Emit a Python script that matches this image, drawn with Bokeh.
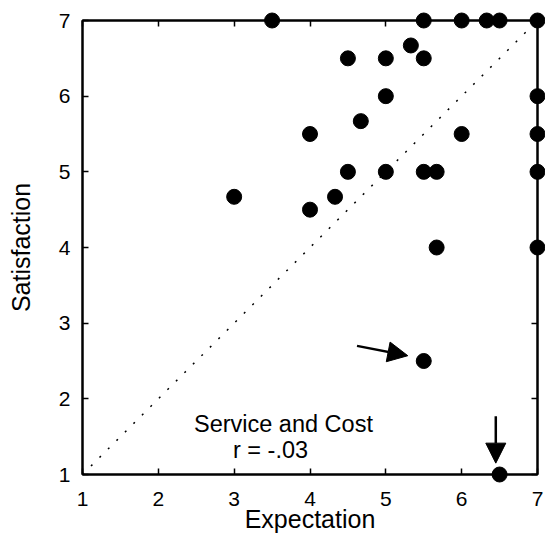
from bokeh.plotting import figure
from bokeh.models import (LinearAxis, Arrow, NormalHead, ColumnDataSource,
                          Range1d, FixedTicker)
from bokeh.embed import file_html
from bokeh.resources import INLINE
from bokeh.core.properties import value

# ---- data ----
expectation = [3.5, 5.5, 6.0, 6.33, 6.5, 7.0,
               4.5, 5.0, 5.33, 5.5, 5.0, 4.67, 4.0, 6.0,
               7.0, 7.0, 7.0, 7.0,
               4.5, 5.0, 5.5, 5.67, 3.0, 4.33, 4.0, 5.67,
               5.5, 6.5]
satisfaction = [7.0, 7.0, 7.0, 7.0, 7.0, 7.0,
                6.5, 6.5, 6.67, 6.5, 6.0, 5.67, 5.5, 5.5,
                6.0, 5.5, 5.0, 4.0,
                5.0, 5.0, 5.0, 5.0, 4.67, 4.67, 4.5, 4.0,
                2.5, 1.0]
axis_ticks = [1, 2, 3, 4, 5, 6, 7]
identity_x = [1, 7]
identity_y = [1, 7]

# arrows pointing at the two outliers
arrow_x_start = [4.62, 6.45]
arrow_y_start = [2.70, 1.77]
arrow_x_end = [5.29, 6.45]
arrow_y_end = [2.57, 1.15]

caption_text = ["Service and Cost", "r = -.03"]
caption_x = [3.65, 3.48]
caption_y = [1.67, 1.33]

FONT = "Liberation Sans"

p = figure(width=545, height=540,
           x_range=Range1d(1, 7), y_range=Range1d(1, 7),
           output_backend="svg", toolbar_location=None,
           min_border_left=82, min_border_right=8,
           min_border_top=20, min_border_bottom=66)

p.background_fill_color = "white"
p.border_fill_color = "white"
p.grid.visible = False
p.outline_line_color = "black"
p.outline_line_width = 2

ticker = FixedTicker(ticks=axis_ticks)

def style_axis(ax, labels=True):
    ax.ticker = ticker
    ax.axis_line_color = "black"
    ax.axis_line_width = 2
    ax.major_tick_in = 6
    ax.major_tick_out = 0
    ax.major_tick_line_color = "black"
    ax.major_tick_line_width = 1.5
    ax.minor_tick_line_color = None
    ax.major_label_text_font = FONT
    ax.axis_label_text_font = FONT
    ax.axis_label_text_font_style = "normal"
    ax.axis_label_text_color = "black"
    if labels:
        ax.major_label_text_color = "black"
        ax.major_label_text_font_size = "21px"
        ax.axis_label_text_font_size = "25px"
    else:
        ax.major_label_text_color = None
        ax.major_label_text_font_size = "8px"
        ax.major_label_standoff = 0

style_axis(p.xaxis[0])
style_axis(p.yaxis[0])
p.xaxis[0].axis_label = "Expectation"
p.yaxis[0].axis_label = "Satisfaction"
p.xaxis[0].major_label_standoff = 17
p.xaxis[0].axis_label_standoff = -4
p.yaxis[0].major_label_standoff = 12
p.yaxis[0].axis_label_standoff = 21

top_axis = LinearAxis()
style_axis(top_axis, labels=False)
right_axis = LinearAxis()
style_axis(right_axis, labels=False)
p.add_layout(top_axis, "above")
p.add_layout(right_axis, "right")

# identity (diagonal) dotted line
p.line(identity_x, identity_y, line_color="black", line_width=1.5,
       line_dash="2 10")

# data points
src = ColumnDataSource(dict(x=expectation, y=satisfaction))
p.scatter("x", "y", source=src, size=15, fill_color="black",
          line_color="black", level="overlay")

# arrows
arrow_src = ColumnDataSource(dict(x0=arrow_x_start, y0=arrow_y_start,
                                  x1=arrow_x_end, y1=arrow_y_end))
p.add_layout(Arrow(source=arrow_src, x_start="x0", y_start="y0",
                   x_end="x1", y_end="y1", line_width=2.5,
                   line_color="black",
                   end=NormalHead(size=20, fill_color="black",
                                  line_color="black")))

# caption
cap_src = ColumnDataSource(dict(x=caption_x, y=caption_y, t=caption_text))
p.text("x", "y", text="t", source=cap_src, text_font=value(FONT),
       text_font_size="23.5px", text_align="center",
       text_baseline="alphabetic", text_color="black")

open("out.html", "w").write(file_html(p, INLINE))
